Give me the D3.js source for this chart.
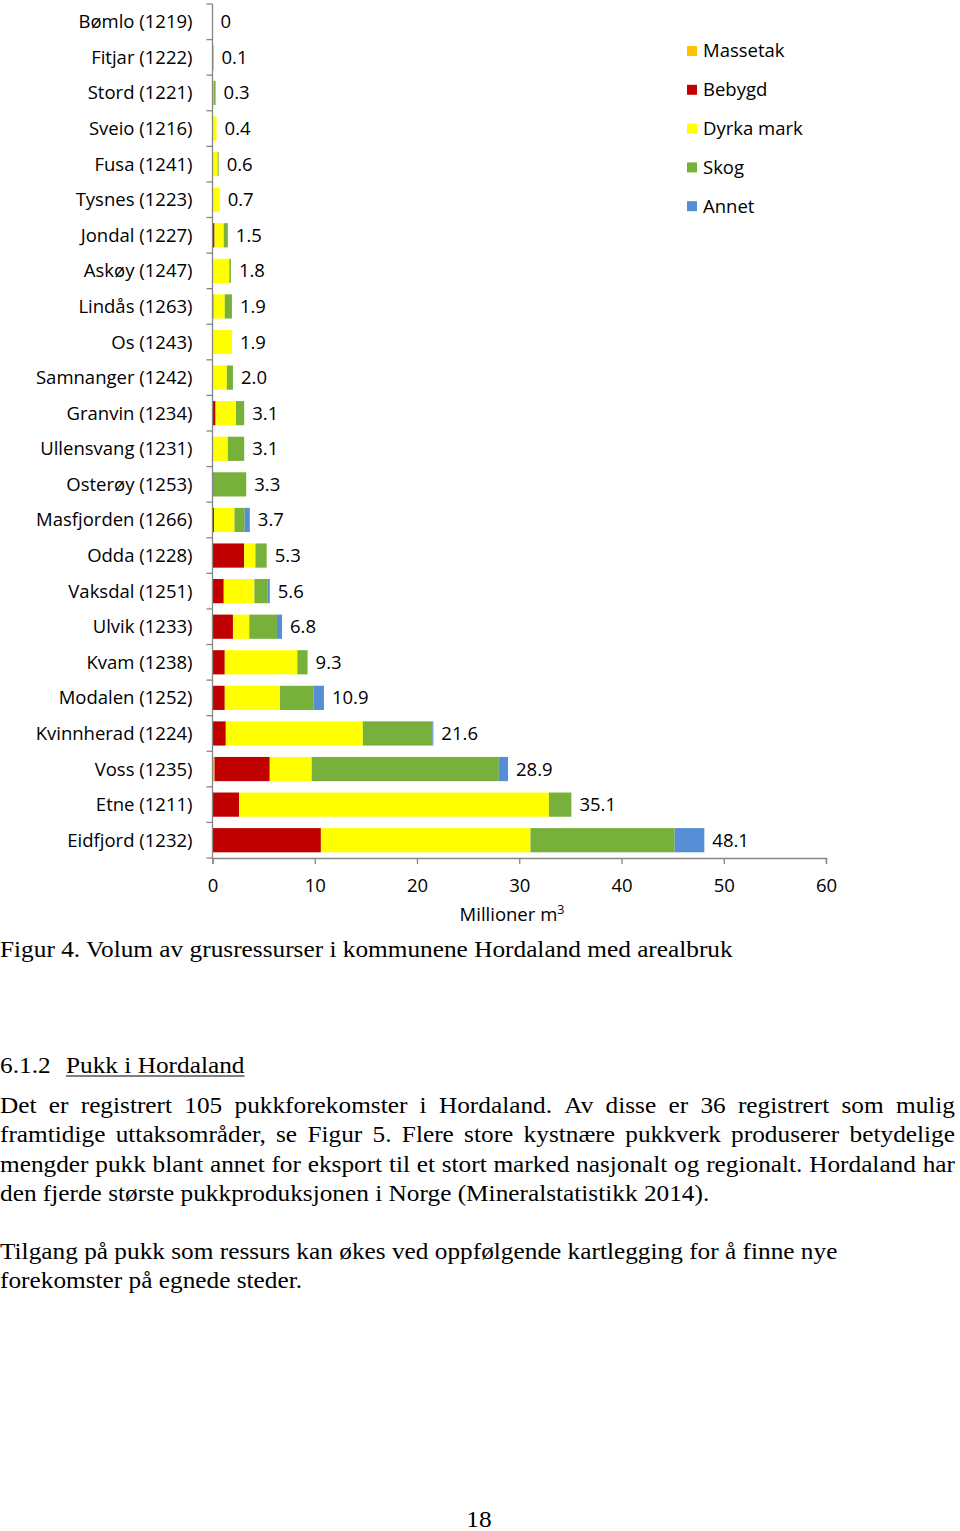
<!DOCTYPE html>
<html><head><meta charset="utf-8">
<script src="https://cdn.jsdelivr.net/npm/d3@7/dist/d3.min.js"></script>
<style>
html,body{margin:0;padding:0;background:#fff;}
svg{display:block;}
</style></head>
<body>
<svg id="c" width="960" height="1531"></svg>
<script>
const categories = ["Bømlo (1219)","Fitjar (1222)","Stord (1221)","Sveio (1216)","Fusa (1241)","Tysnes (1223)","Jondal (1227)","Askøy (1247)","Lindås (1263)","Os (1243)","Samnanger (1242)","Granvin (1234)","Ullensvang (1231)","Osterøy (1253)","Masfjorden (1266)","Odda (1228)","Vaksdal (1251)","Ulvik (1233)","Kvam (1238)","Modalen (1252)","Kvinnherad (1224)","Voss (1235)","Etne (1211)","Eidfjord (1232)"];
const seriesNames = ["Massetak","Bebygd","Dyrka mark","Skog","Annet"];
const seriesColors = ["#FFC000","#C00000","#FFFF00","#77B03A","#558ED5"];
const massetak = [0,0,0,0,0,0,0,0,0,0,0,0,0,0,0,0,0,0,0,0,0,0.2,0,0];
const bebygd   = [0,0,0,0.05,0,0,0.2,0,0.1,0,0,0.3,0,0,0.15,3.1,1.1,2.0,1.2,1.2,1.3,5.4,2.6,10.6];
const dyrka    = [0,0.05,0.1,0.35,0.5,0.7,0.9,1.65,1.1,1.9,1.4,2.0,1.5,0,2.0,1.1,3.0,1.6,7.1,5.4,13.4,4.1,30.3,20.5];
const skog     = [0,0.05,0.2,0,0.1,0,0.4,0.15,0.7,0,0.6,0.8,1.6,3.3,1.0,1.1,1.3,2.7,1.0,3.3,6.8,18.3,2.2,14.1];
const annet    = [0,0,0,0,0,0,0,0,0,0,0,0,0,0,0.5,0,0.2,0.5,0,1.0,0.1,0.9,0,2.9];
const totals   = ["0","0.1","0.3","0.4","0.6","0.7","1.5","1.8","1.9","1.9","2.0","3.1","3.1","3.3","3.7","5.3","5.6","6.8","9.3","10.9","21.6","28.9","35.1","48.1"];
const xTicks = [0,10,20,30,40,50,60];

const caption = "Figur 4. Volum av grusressurser i kommunene Hordaland med arealbruk";
const headingNum = "6.1.2";
const headingText = "Pukk i Hordaland";
const para1 = ["Det er registrert 105 pukkforekomster i Hordaland. Av disse er 36 registrert som mulig",
  "framtidige uttaksområder, se Figur 5. Flere store kystnære pukkverk produserer betydelige",
  "mengder pukk blant annet for eksport til et stort marked nasjonalt og regionalt. Hordaland har",
  "den fjerde største pukkproduksjonen i Norge (Mineralstatistikk 2014)."];
const para2 = ["Tilgang på pukk som ressurs kan økes ved oppfølgende kartlegging for å finne nye",
  "forekomster på egnede steder."];
const pageNo = "18";

const svg = d3.select("#c");
const sans = "'Open Sans', sans-serif";
const serif = "'Liberation Serif', 'Times New Roman', serif";
const fs = 18.5;

const x = d3.scaleLinear().domain([0,60]).range([212.5, 826]);
const y = d3.scaleBand().domain(categories).range([4, 858]).paddingInner(0.32).paddingOuter(0.16);

const rows = categories.map((c,i)=>({cat:c, Massetak:massetak[i], Bebygd:bebygd[i], "Dyrka mark":dyrka[i], Skog:skog[i], Annet:annet[i], total:totals[i]}));
const stack = d3.stack().keys(seriesNames)(rows);
const color = d3.scaleOrdinal().domain(seriesNames).range(seriesColors);

const g = svg.append("g");
g.selectAll("g.s").data(stack).join("g").attr("fill", d=>color(d.key))
  .selectAll("rect").data(d=>d).join("rect")
  .attr("x", d=>x(d[0])).attr("width", d=>Math.max(0, x(d[1])-x(d[0])))
  .attr("y", d=>y(d.data.cat)).attr("height", y.bandwidth());

// value labels
g.selectAll("text.v").data(rows).join("text")
  .attr("x", (d,i)=>x(stack[4][i][1]) + 8)
  .attr("y", d=>y(d.cat)+y.bandwidth()/2).attr("dy","0.35em")
  .attr("font-family", sans).attr("font-size", fs).attr("fill","#000")
  .text(d=>d.total);

// y axis
const ya = g.append("g").attr("transform","translate(212.5,0)");
ya.append("line").attr("x1",0).attr("x2",0).attr("y1",4).attr("y2",858).attr("stroke","#868686").attr("stroke-width",1.3);
const step = y.step();
const yb = d3.range(categories.length+1).map(i=>4+i*step);
ya.selectAll("line.t").data(yb).join("line").attr("x1",-6).attr("x2",0).attr("y1",d=>d).attr("y2",d=>d).attr("stroke","#868686").attr("stroke-width",1.3);
ya.selectAll("text").data(categories).join("text")
  .attr("x",-20).attr("y",d=>y(d)+y.bandwidth()/2).attr("dy","0.35em")
  .attr("text-anchor","end").attr("font-family",sans).attr("font-size",fs).attr("fill","#000").text(d=>d);

// x axis
const xa = g.append("g").attr("transform","translate(0,858)")
  .call(d3.axisBottom(x).tickValues(xTicks).tickSize(6).tickPadding(15));
xa.select(".domain").attr("stroke","#868686").attr("stroke-width",1.3);
xa.selectAll(".tick line").attr("stroke","#868686").attr("stroke-width",1.3);
xa.selectAll(".tick text").attr("font-family",sans).attr("font-size",fs).attr("fill","#000");

const t = g.append("text").attr("x",512).attr("y",921).attr("text-anchor","middle")
  .attr("font-family",sans).attr("font-size",fs).attr("fill","#000");
t.append("tspan").text("Millioner m");
t.append("tspan").attr("font-size",12.5).attr("dy",-7).text("3");

// legend
const lg = g.append("g");
seriesNames.forEach((s,i)=>{
  const yy = 51 + i*38.8;
  lg.append("rect").attr("x",687).attr("y",yy-5).attr("width",10).attr("height",10).attr("fill",seriesColors[i]);
  lg.append("text").attr("x",703).attr("y",yy).attr("dy","0.35em").attr("font-family",sans).attr("font-size",fs).text(s);
});

// document text (horizontally stretched like the scanned page)
const sx = 1.125;
const tfs = 22.5;
const doc = svg.append("g").attr("transform",`scale(${sx},1)`);
function txt(s, xx, yy) {
  return doc.append("text").attr("x",xx/sx).attr("y",yy).attr("font-family",serif).attr("font-size",tfs).attr("fill","#000").text(s);
}
txt(caption, 0, 957);
txt(headingNum, 0, 1073);
const ht = txt(headingText, 66, 1073);
const hw = ht.node().getComputedTextLength();
doc.append("line").attr("x1",66/sx).attr("x2",66/sx+hw).attr("y1",1076).attr("y2",1076).attr("stroke","#000").attr("stroke-width",1.2);

function justify(line, yy, width) {
  const words = line.split(" ");
  const tmp = doc.append("g");
  const ws = words.map(w=>tmp.append("text").attr("font-family",serif).attr("font-size",tfs).text(w).node().getComputedTextLength()*sx);
  tmp.remove();
  const gap = (width - d3.sum(ws))/(words.length-1);
  let cx = 0;
  words.forEach((w,i)=>{ txt(w, cx, yy); cx += ws[i] + gap; });
}
const lh = 29.3;
justify(para1[0], 1113, 955);
justify(para1[1], 1113+lh, 955);
justify(para1[2], 1113+2*lh, 955);
txt(para1[3], 0, 1113+3*lh);
txt(para2[0], 0, 1259);
txt(para2[1], 0, 1259+lh);
txt(pageNo, 479, 1527).attr("text-anchor","middle");
</script>
</body></html>
